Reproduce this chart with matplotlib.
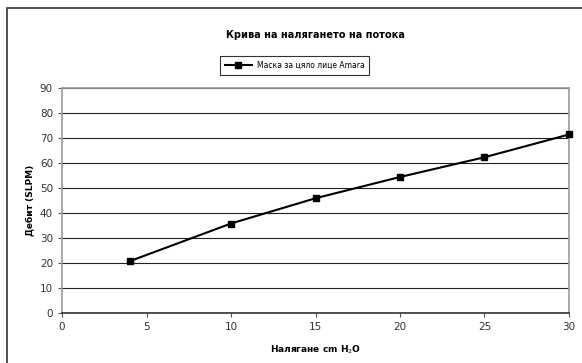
import numpy as np
import matplotlib.pyplot as plt
from matplotlib.patches import Rectangle

# pressure (cm H2O) vs flow (SLPM)
pressure = [4, 10, 15, 20, 25, 30]
flow = [20.7, 35.8, 45.9, 54.4, 62.3, 71.4]
series_name = 'Маска за цяло лице Amara'

W, H = 582, 363
fig = plt.figure(figsize=(W / 100, H / 100), dpi=100)
ax = fig.add_axes([62 / W, 1 - 313 / H, (569 - 62) / W, (313 - 88) / H])

# outer frame of the chart (runs off the right and bottom edges)
fig.patches.append(Rectangle((7 / W, -0.1), 1.2, 1.1 - 8 / H, transform=fig.transFigure,
                             fill=False, edgecolor='#333333', linewidth=1.2))

ax.plot(pressure, flow, color='black', linewidth=1.5, marker='s', markersize=5,
        label=series_name, clip_on=False, zorder=3)

ax.set_xlim(0, 30)
ax.set_ylim(0, 90)
ax.set_xticks(np.arange(0, 31, 5))
ax.set_yticks(np.arange(0, 91, 10))
ax.grid(axis='y', color='#222222', linewidth=0.8)
ax.set_axisbelow(True)
ax.tick_params(labelsize=7.5, length=3, width=0.8, color='#555555', labelcolor='#333333')
for s in ['left', 'right', 'top']:
    ax.spines[s].set_color('#999999')
    ax.spines[s].set_linewidth(1.2)
ax.spines['bottom'].set_color('#333333')
ax.spines['bottom'].set_linewidth(1.2)

ax.set_xlabel('Налягане cm H$_2$O', fontsize=6.5, fontweight='bold', labelpad=8)
ax.set_ylabel('Дебит (SLPM)', fontsize=6.5, fontweight='bold', labelpad=4)
fig.text(315 / W, 1 - 35 / H, 'Крива на налягането на потока', ha='center', va='center',
         fontsize=7, fontweight='bold')

leg = fig.legend(*ax.get_legend_handles_labels(), loc='center',
                 bbox_to_anchor=(294.5 / W, 1 - 65.5 / H),
                 fontsize=5.5, frameon=True, fancybox=False, edgecolor='black',
                 borderpad=0.6, handlelength=3.6, handletextpad=0.6, borderaxespad=0)
leg.get_frame().set_linewidth(0.8)

plt.savefig('out.png', dpi=100)
